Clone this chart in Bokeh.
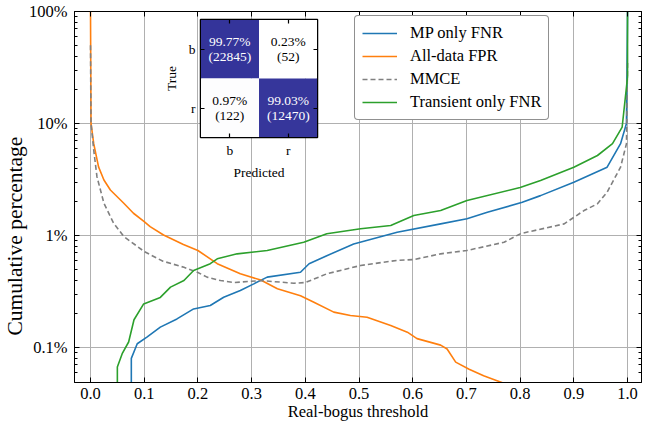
from bokeh.plotting import figure
from bokeh.models import (FixedTicker, LinearAxis, LogAxis, PrintfTickFormatter, Title,
                          CustomJSTickFormatter, ColumnDataSource, FactorRange, CategoricalAxis)
from bokeh.core.properties import value
from bokeh.embed import file_html
from bokeh.resources import INLINE

FONT = "Liberation Serif"

# ---------------- data (percent vs real-bogus threshold) ----------------
mp_x = [0.076, 0.076, 0.087, 0.105, 0.13, 0.161, 0.192, 0.223, 0.248, 0.279, 0.304, 0.329,
        0.391, 0.407, 0.44, 0.49, 0.571, 0.652, 0.701, 0.739, 0.804, 0.838, 0.9, 0.962,
        0.987, 0.998, 1.0]
mp_y = [0.04, 0.08, 0.108, 0.124, 0.152, 0.18, 0.221, 0.237, 0.281, 0.323, 0.37, 0.425,
        0.47, 0.56, 0.66, 0.84, 1.07, 1.27, 1.41, 1.61, 1.98, 2.27, 2.99, 4.07,
        6.6, 10.0, 100.0]

fpr_x = [0.0, 0.0005, 0.001, 0.006, 0.015, 0.025, 0.037, 0.062, 0.08, 0.1, 0.111, 0.136,
         0.173, 0.2, 0.236, 0.279, 0.317, 0.348, 0.391, 0.416, 0.453, 0.484, 0.515, 0.559,
         0.59, 0.608, 0.652, 0.664, 0.68, 0.705, 0.732, 0.757, 0.785]
fpr_y = [100.0, 30.0, 10.0, 6.6, 4.1, 3.13, 2.55, 1.94, 1.58, 1.33, 1.2, 1.01,
         0.83, 0.735, 0.56, 0.455, 0.40, 0.335, 0.29, 0.254, 0.207, 0.193, 0.186, 0.157,
         0.137, 0.12, 0.105, 0.097, 0.074, 0.064, 0.056, 0.0506, 0.045]

mmce_x = [0.0, 0.0005, 0.001, 0.006, 0.012, 0.025, 0.043, 0.062, 0.1, 0.123, 0.135, 0.174,
          0.199, 0.217, 0.242, 0.267, 0.317, 0.379, 0.4, 0.44, 0.503, 0.571, 0.602, 0.652,
          0.701, 0.77, 0.801, 0.882, 0.919, 0.944, 0.962, 0.987, 0.998, 1.0]
mmce_y = [50.0, 20.0, 10.0, 5.8, 3.35, 1.94, 1.29, 0.98, 0.72, 0.63, 0.59, 0.52,
          0.47, 0.425, 0.396, 0.38, 0.396, 0.375, 0.38, 0.455, 0.54, 0.6, 0.61, 0.686,
          0.735, 0.87, 1.04, 1.27, 1.67, 1.92, 2.44, 4.07, 6.6, 35.0]

tr_x = [0.05, 0.05, 0.059, 0.071, 0.081, 0.099, 0.13, 0.149, 0.174, 0.192, 0.223, 0.236,
        0.273, 0.329, 0.397, 0.44, 0.503, 0.559, 0.602, 0.652, 0.701, 0.8, 0.838, 0.9,
        0.944, 0.972, 0.99, 1.0, 1.0]
tr_y = [0.04, 0.067, 0.088, 0.112, 0.177, 0.245, 0.28, 0.346, 0.396, 0.487, 0.56, 0.619,
        0.686, 0.735, 0.87, 1.035, 1.15, 1.23, 1.51, 1.67, 2.05, 2.68, 3.1, 4.07,
        5.18, 6.6, 9.3, 26.0, 100.0]

x_ticks = [0.0, 0.1, 0.2, 0.3, 0.4, 0.5, 0.6, 0.7, 0.8, 0.9, 1.0]
y_ticks = [0.1, 1.0, 10.0, 100.0]
y_minor = ([0.06, 0.07, 0.08, 0.09] + [0.2, 0.3, 0.4, 0.5, 0.6, 0.7, 0.8, 0.9]
           + [2, 3, 4, 5, 6, 7, 8, 9] + [20, 30, 40, 50, 60, 70, 80, 90])

# confusion matrix
cm_true = ["b", "b", "r", "r"]
cm_pred = ["b", "r", "b", "r"]
cm_counts = [22845, 52, 122, 12470]
cm_classes = ["b", "r"]

BLANK = CustomJSTickFormatter(code="return '';")

# ---------------- main figure ----------------
p = figure(width=645, height=425, x_range=(-0.0298, 1.026), y_range=(0.0487, 100),
           y_axis_type="log", output_backend="svg", toolbar_location=None,
           min_border_left=74, min_border_right=4, min_border_top=11, min_border_bottom=43)
p.background_fill_color = "white"
p.border_fill_color = "white"
p.outline_line_color = "black"
p.outline_line_width = 1

xt = FixedTicker(ticks=x_ticks)
yt = FixedTicker(ticks=y_ticks, minor_ticks=y_minor)

xa = p.xaxis[0]
ya = p.yaxis[0]
xa.ticker = xt
xa.formatter = PrintfTickFormatter(format="%.1f")
xa.axis_label = "Real-bogus threshold"
ya.ticker = yt
ya.formatter = CustomJSTickFormatter(code="return tick + '%';")
p.xgrid.ticker = xt
p.ygrid.ticker = yt

top = LinearAxis(ticker=xt, formatter=BLANK, major_label_standoff=0,
                 major_label_text_font_size="1px", axis_label_standoff=0)
right = LogAxis(ticker=yt, formatter=BLANK, major_label_standoff=0,
                major_label_text_font_size="1px", axis_label_standoff=0)
p.add_layout(top, "above")
p.add_layout(right, "right")

for ax in [xa, top]:
    ax.minor_tick_line_color = None
for ax in [xa, ya, top, right]:
    ax.axis_line_color = "black"
    ax.major_tick_in = 5
    ax.major_tick_out = 0
    ax.minor_tick_in = 3
    ax.minor_tick_out = 0
    ax.major_tick_line_color = "black"
    ax.major_label_text_font = FONT
    ax.axis_label_text_font = FONT
    ax.axis_label_text_font_style = "normal"
for ax in [xa, ya]:
    ax.major_label_text_font_size = "16.5px"
    ax.axis_label_text_font_size = "16.5px"
    ax.major_label_text_color = "black"
    ax.axis_label_text_color = "black"
    ax.major_label_text_line_height = 1.0
    ax.axis_label_text_line_height = 1.0
xa.major_label_standoff = 5
xa.axis_label_standoff = 0
ya.major_label_standoff = 7

# y-axis title as a side title, so that it can sit where the reference has it
ytitle = Title(text="Cumulative percentage", align="left", offset=47, standoff=0,
               text_font=FONT, text_font_size="21.5px", text_font_style="normal",
               text_color="black")
p.add_layout(ytitle, "left")

for g in [p.xgrid[0], p.ygrid[0]]:
    g.grid_line_color = "#b0b0b0"
    g.grid_line_width = 1

lw = 1.6
p.line(mp_x, mp_y, color="#1f77b4", line_width=lw, legend_label="MP only FNR")
p.line(fpr_x, fpr_y, color="#ff7f0e", line_width=lw, legend_label="All-data FPR")
p.line(mmce_x, mmce_y, color="#808080", line_width=lw, line_dash="5 3", legend_label="MMCE")
p.line(tr_x, tr_y, color="#2ca02c", line_width=lw, legend_label="Transient only FNR")

lg = p.legend[0]
lg.location = (280, 262)
lg.label_text_font = FONT
lg.label_text_font_size = "16.5px"
lg.label_text_color = "black"
lg.glyph_width = 35
lg.glyph_height = 20
lg.label_height = 20
lg.label_standoff = 13
lg.padding = 7
lg.spacing = 3
lg.margin = 0
lg.border_line_color = "#222222"
lg.border_line_width = 1
lg.background_fill_color = "white"
lg.background_fill_alpha = 1.0
if "border_radius" in lg.properties():
    lg.border_radius = 4

# ---------------- inset confusion matrix ----------------
row_tot = {}
for t, c in zip(cm_true, cm_counts):
    row_tot[t] = row_tot.get(t, 0) + c
frac = [c / row_tot[t] for t, c in zip(cm_true, cm_counts)]
dark = (52, 52, 154)
colors = []
tcolors = []
for f in frac:
    r = int(round(255 + (dark[0] - 255) * f))
    g = int(round(255 + (dark[1] - 255) * f))
    b = int(round(255 + (dark[2] - 255) * f))
    colors.append("#%02x%02x%02x" % (r, g, b))
    tcolors.append("white" if f > 0.5 else "black")
labels = ["%.2f%%\n(%d)" % (f * 100, c) for f, c in zip(frac, cm_counts)]
src = ColumnDataSource(dict(true=cm_true, pred=cm_pred, color=colors, tcolor=tcolors, label=labels))

inset = figure(width=160, height=165, x_range=FactorRange(*cm_classes),
               y_range=FactorRange(*reversed(cm_classes)),
               output_backend="svg", toolbar_location=None,
               min_border_left=37, min_border_right=3, min_border_top=2, min_border_bottom=45,
               styles={"position": "absolute", "left": "160px", "top": "17px"})
inset.background_fill_color = None
inset.border_fill_color = None
inset.outline_line_color = "black"
inset.outline_line_width = 1.5
inset.xgrid.grid_line_color = None
inset.ygrid.grid_line_color = None
inset.rect(x="pred", y="true", width=1, height=1, fill_color="color", line_color=None, source=src)
inset.text(x="pred", y="true", text="label", text_color="tcolor", text_align="center",
           text_baseline="middle", text_font=value(FONT), text_font_size="13.5px",
           text_line_height=1.05, source=src)
ix = inset.xaxis[0]
iy = inset.yaxis[0]
ix.axis_label = "Predicted"
iy.axis_label = "True"
itop = CategoricalAxis(formatter=BLANK, major_label_standoff=0, major_label_text_font_size="1px")
iright = CategoricalAxis(formatter=BLANK, major_label_standoff=0, major_label_text_font_size="1px")
inset.add_layout(itop, "above")
inset.add_layout(iright, "right")
for ax in [ix, iy, itop, iright]:
    ax.axis_line_color = "black"
    ax.major_tick_in = 4
    ax.major_tick_out = 0
    ax.major_tick_line_color = "black"
    ax.major_tick_line_width = 1.2
    ax.minor_tick_line_color = None
    ax.major_label_text_font = FONT
    ax.axis_label_text_font = FONT
    ax.axis_label_text_font_style = "normal"
for ax in [ix, iy]:
    ax.major_label_text_font_size = "13.5px"
    ax.axis_label_text_font_size = "13.5px"
    ax.major_label_text_color = "black"
    ax.axis_label_text_color = "black"
    ax.major_label_text_line_height = 1.0
    ax.axis_label_text_line_height = 1.0
ix.major_label_standoff = 5
ix.axis_label_standoff = 4
iy.major_label_standoff = 5
iy.axis_label_standoff = 7
iy.major_label_orientation = "horizontal"

open("out.html", "w").write(file_html([p, inset], INLINE))
